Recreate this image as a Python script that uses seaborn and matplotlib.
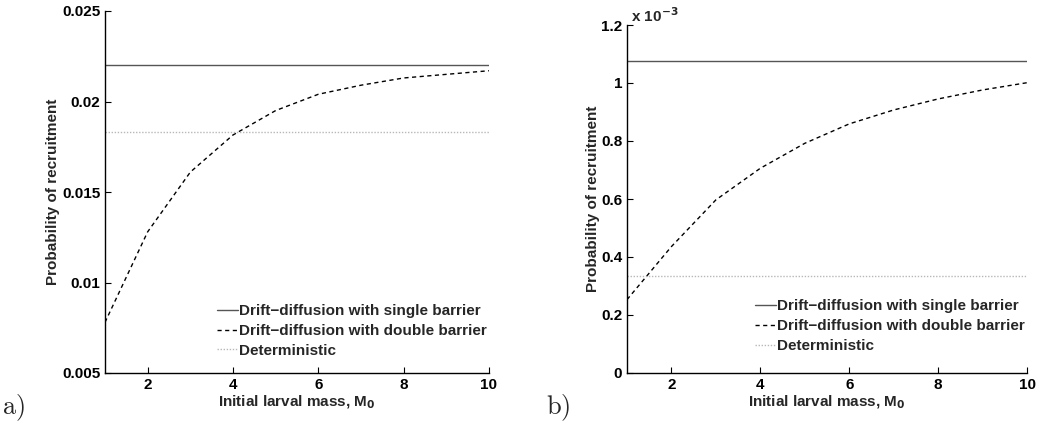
import numpy as np
import pandas as pd
import matplotlib
matplotlib.use("Agg")
import matplotlib.pyplot as plt
import seaborn as sns
from matplotlib.ticker import FuncFormatter

# ---- data ----
mass = [1, 2, 3, 4, 5, 6, 7, 8, 9, 10]
a_single = 0.0220
a_determ = 0.0183
a_double = [0.0078, 0.0128, 0.0161, 0.01815, 0.0195, 0.0204, 0.0209, 0.0213, 0.0215, 0.0217]
b_single = 1.076e-3
b_determ = 0.335e-3
b_double = [0.253e-3, 0.436e-3, 0.597e-3, 0.706e-3, 0.792e-3, 0.859e-3, 0.907e-3, 0.945e-3, 0.976e-3, 1.001e-3]
labels = ["Drift\u2212diffusion with single barrier",
          "Drift\u2212diffusion with double barrier",
          "Deterministic"]
a_yticks = [0.005, 0.01, 0.015, 0.02, 0.025]
b_yticks = [0, 0.2e-3, 0.4e-3, 0.6e-3, 0.8e-3, 1.0e-3, 1.2e-3]
xticks = [2, 4, 6, 8, 10]

sns.set_style("ticks")
plt.rcParams['font.family'] = ['Liberation Sans', 'DejaVu Sans']
plt.rcParams['xtick.direction'] = 'in'
plt.rcParams['ytick.direction'] = 'in'
plt.rcParams['mathtext.default'] = 'bf'

fig = plt.figure(figsize=(10.43, 4.29), dpi=100)
W, H = 1043, 429
axA = fig.add_axes([105 / W, 1 - 373 / H, (489 - 105) / W, (373 - 11) / H])
axB = fig.add_axes([627 / W, 1 - 373 / H, (1027 - 627) / W, (373 - 25) / H])


def draw(ax, single, determ, double, yticks, ylim, anchor_y):
    df = pd.DataFrame({
        "x": mass * 3,
        "y": [single] * len(mass) + list(double) + [determ] * len(mass),
        "series": [labels[0]] * len(mass) + [labels[1]] * len(mass) + [labels[2]] * len(mass),
    })
    sns.lineplot(data=df[df.series == labels[0]], x="x", y="y", ax=ax,
                 color="#555555", lw=1.0, label=labels[0])
    sns.lineplot(data=df[df.series == labels[1]], x="x", y="y", ax=ax,
                 color="black", lw=1.0, linestyle=(0, (3, 2.5)), label=labels[1])
    sns.lineplot(data=df[df.series == labels[2]], x="x", y="y", ax=ax,
                 color="#b8b8b8", lw=1.0, linestyle=(0, (1, 1.2)), label=labels[2])
    ax.set_xlim(1, 10)
    ax.set_ylim(*ylim)
    ax.set_xticks(xticks)
    ax.set_yticks(yticks)
    for s in ["top", "right"]:
        ax.spines[s].set_visible(False)
    for s in ["left", "bottom"]:
        ax.spines[s].set_linewidth(1.0)
        ax.spines[s].set_color("black")
    ax.tick_params(labelsize=11, length=4, width=0.8, colors="black")
    for t in ax.get_xticklabels() + ax.get_yticklabels():
        t.set_fontweight("bold")
    ax.set_xlabel("Initial larval mass, M$_\\mathbf{0}$", fontsize=11, fontweight="bold", labelpad=1)
    ax.set_ylabel("Probability of recruitment", fontsize=11, fontweight="bold", labelpad=1)
    leg = ax.legend(loc="lower right", frameon=False, fontsize=11, handlelength=1.4,
                    handletextpad=0.05, borderaxespad=0.0, labelspacing=0.38,
                    bbox_to_anchor=(1.01, anchor_y))
    for t in leg.get_texts():
        t.set_fontweight("bold")


draw(axA, a_single, a_determ, a_double, a_yticks, (0.005, 0.025), 0.025)
axA.yaxis.set_major_formatter(FuncFormatter(lambda v, p: f"{v:g}"))
draw(axB, b_single, b_determ, b_double, b_yticks, (0, 1.2e-3), 0.04)
axB.yaxis.set_major_formatter(FuncFormatter(lambda v, p: f"{v * 1e3:g}"))
axB.text(0.0, 1.0, " x 10$^{-3}$", transform=axB.transAxes, fontsize=11,
         fontweight="bold", va="bottom", ha="left")

fig.text(2 / W, 1 - 408 / H, r"$\mathrm{a)}$", fontsize=19, math_fontfamily="cm", va="center")
fig.text(546 / W, 1 - 408 / H, r"$\mathrm{b)}$", fontsize=19, math_fontfamily="cm", va="center")

fig.savefig("out.png", dpi=100)
